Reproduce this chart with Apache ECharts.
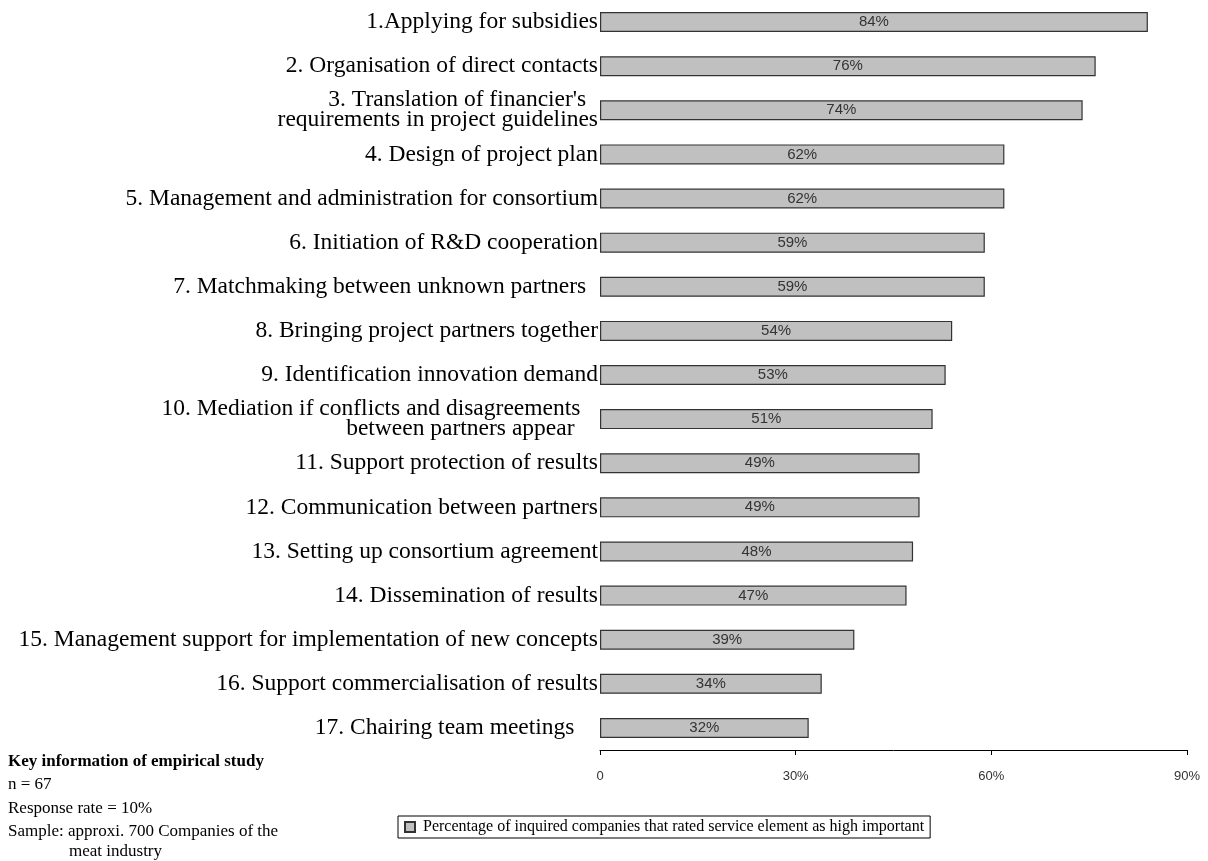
<!DOCTYPE html>
<html><head><meta charset="utf-8">
<script src="https://cdn.jsdelivr.net/npm/echarts@6/dist/echarts.min.js"></script>
<style>html,body{margin:0;padding:0;background:#fff}#c{width:1208px;height:861px}</style>
</head><body><div id="c"></div>
<script>
const categories = [
  "1.Applying for subsidies",
  "2. Organisation of direct contacts",
  "3. Translation of financier's  \nrequirements in project guidelines",
  "4. Design of project plan",
  "5. Management and administration for consortium",
  "6. Initiation of R&D cooperation",
  "7. Matchmaking between unknown partners  ",
  "8. Bringing project partners together",
  "9. Identification innovation demand",
  "10. Mediation if conflicts and disagreements   \nbetween partners appear    ",
  "11. Support protection of results",
  "12. Communication between partners",
  "13. Setting up consortium agreement",
  "14. Dissemination of results",
  "15. Management support for implementation of new concepts",
  "16. Support commercialisation of results",
  "17. Chairing team meetings    "
];
const values = [84, 76, 74, 62, 62, 59, 59, 54, 53, 51, 49, 49, 48, 47, 39, 34, 32];
const tickLabels = {0: "0", 30: "30%", 60: "60%", 90: "90%"};
const seriesName = "Percentage of inquired companies that rated service element as high important";
const noteTitle = "Key information of empirical study";
const noteLines = ["n = 67", "Response rate = 10%", "Sample: approxi. 700 Companies of the", "meat industry"];

const chart = echarts.init(document.getElementById('c'), null, {renderer: 'canvas'});
const noteFont = '17px "Liberation Serif"';
chart.setOption({
  backgroundColor: '#fff',
  animation: false,
  grid: {left: 600, right: 21, top: -5, bottom: 111, containLabel: false},
  xAxis: {
    type: 'value', min: 0, max: 90, interval: 30,
    axisLine: {show: true, lineStyle: {color: '#000', width: 1}},
    axisTick: {show: true, length: 5, inside: false, lineStyle: {color: '#000'}},
    splitLine: {show: false},
    axisLabel: {margin: 20, color: '#333', fontFamily: 'Liberation Sans', fontSize: 13,
      formatter: v => tickLabels[v] !== undefined ? tickLabels[v] : ''}
  },
  yAxis: {
    type: 'category', data: categories, inverse: true,
    axisLine: {show: false}, axisTick: {show: false},
    axisLabel: {margin: 2, color: '#000', fontFamily: 'Liberation Serif', fontSize: 23.5, lineHeight: 20, align: 'right'}
  },
  legend: {
    data: [seriesName], left: 398, top: 816, orient: 'horizontal',
    borderColor: '#000', borderWidth: 1, padding: [3, 6, 3, 6], borderRadius: 0,
    icon: 'rect', itemWidth: 10, itemHeight: 10, itemGap: 8,
    textStyle: {fontFamily: 'Liberation Serif', fontSize: 16, color: '#000', padding: [0, 0, 0, 3]}
  },
  graphic: [
    {type: 'text', x: 8, y: 762, style: {text: noteTitle, font: 'bold 17px "Liberation Serif"', fill: '#000', verticalAlign: 'middle'}},
    {type: 'text', x: 8, y: 785, style: {text: noteLines[0], font: noteFont, fill: '#000', verticalAlign: 'middle'}},
    {type: 'text', x: 8, y: 809, style: {text: noteLines[1], font: noteFont, fill: '#000', verticalAlign: 'middle'}},
    {type: 'text', x: 8, y: 832, style: {text: noteLines[2], font: noteFont, fill: '#000', verticalAlign: 'middle'}},
    {type: 'text', x: 69, y: 852, style: {text: noteLines[3], font: noteFont, fill: '#000', verticalAlign: 'middle'}}
  ],
  series: [{
    name: seriesName, type: 'bar', data: values, barWidth: 20,
    itemStyle: {color: '#c0c0c0', borderColor: '#333', borderWidth: 1.2},
    label: {show: true, position: 'inside', formatter: p => p.value + '%', color: '#333',
      fontFamily: 'Liberation Sans', fontSize: 15}
  }]
});
</script></body></html>
